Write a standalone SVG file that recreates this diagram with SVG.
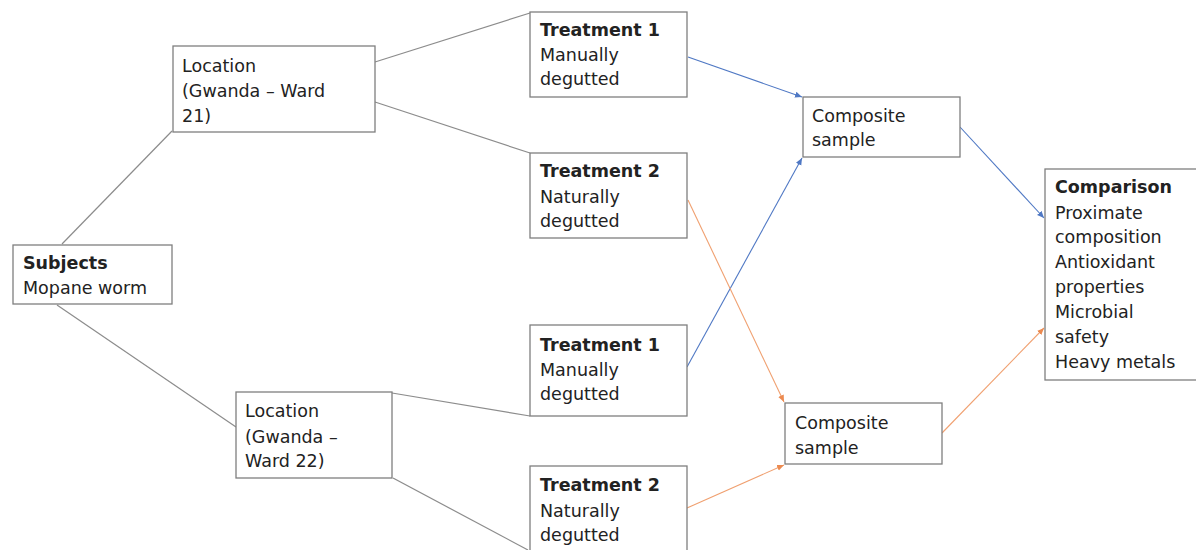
<svg xmlns="http://www.w3.org/2000/svg" width="1196" height="550" viewBox="0 0 1196 550">
<defs>
<style>
.box{fill:#fff;stroke:#7f7f7f;stroke-width:1.3}
.t{font-family:"DejaVu Sans",Verdana,sans-serif;font-size:17.5px;fill:#222}
.b{font-weight:bold}
.g{stroke:#8c8c8c;stroke-width:1.2;fill:none}
.bl{stroke:#4f78c4;stroke-width:1.1;fill:none}
.or{stroke:#f0a070;stroke-width:1.1;fill:none}
</style>
<marker id="ab" markerUnits="userSpaceOnUse" markerWidth="8" markerHeight="8" refX="7" refY="4" orient="auto"><path d="M0,1 L7,4 L0,7 Z" fill="#4f78c4"/></marker>
<marker id="ao" markerUnits="userSpaceOnUse" markerWidth="8" markerHeight="8" refX="7" refY="4" orient="auto"><path d="M0,1 L7,4 L0,7 Z" fill="#ec8a50"/></marker>
</defs>
<rect width="1196" height="550" fill="#fff"/>
<g id="connectors">
<line class="g" x1="62" y1="244" x2="172" y2="131"/>
<line class="g" x1="57" y1="305" x2="236" y2="427"/>
<line class="g" x1="375" y1="62" x2="530" y2="13"/>
<line class="g" x1="375" y1="102" x2="530" y2="153"/>
<line class="g" x1="392" y1="393" x2="530" y2="416"/>
<line class="g" x1="393" y1="478" x2="528" y2="550"/>
<line class="bl" x1="688" y1="57" x2="802" y2="97" marker-end="url(#ab)"/>
<line class="bl" x1="687" y1="367" x2="802" y2="158" marker-end="url(#ab)"/>
<line class="bl" x1="960" y1="127" x2="1044" y2="218" marker-end="url(#ab)"/>
<line class="or" x1="688" y1="200" x2="784" y2="402" marker-end="url(#ao)"/>
<line class="or" x1="687" y1="508" x2="784" y2="465" marker-end="url(#ao)"/>
<line class="or" x1="942" y1="433" x2="1044" y2="328" marker-end="url(#ao)"/>
</g>
<g id="subjects">
<rect class="box" x="13" y="245" width="159" height="59"/>
<text class="t b" x="23" y="269">Subjects</text>
<text class="t" x="23" y="294">Mopane worm</text>
</g>
<g id="location1">
<rect class="box" x="173" y="46" width="202" height="86"/>
<text class="t" x="182" y="72">Location</text>
<text class="t" x="182" y="97">(Gwanda – Ward</text>
<text class="t" x="182" y="122">21)</text>
</g>
<g id="location2">
<rect class="box" x="236" y="392" width="156" height="86"/>
<text class="t" x="245" y="417">Location</text>
<text class="t" x="245" y="443">(Gwanda –</text>
<text class="t" x="245" y="467">Ward 22)</text>
</g>
<g id="treatment1a">
<rect class="box" x="530" y="12" width="157" height="85"/>
<text class="t b" x="540" y="36">Treatment 1</text>
<text class="t" x="540" y="61">Manually</text>
<text class="t" x="540" y="85">degutted</text>
</g>
<g id="treatment2a">
<rect class="box" x="530" y="153" width="157" height="85"/>
<text class="t b" x="540" y="177">Treatment 2</text>
<text class="t" x="540" y="203">Naturally</text>
<text class="t" x="540" y="227">degutted</text>
</g>
<g id="treatment1b">
<rect class="box" x="530" y="325" width="157" height="91"/>
<text class="t b" x="540" y="351">Treatment 1</text>
<text class="t" x="540" y="376">Manually</text>
<text class="t" x="540" y="400">degutted</text>
</g>
<g id="treatment2b">
<rect class="box" x="530" y="466" width="157" height="90"/>
<text class="t b" x="540" y="491">Treatment 2</text>
<text class="t" x="540" y="517">Naturally</text>
<text class="t" x="540" y="541">degutted</text>
</g>
<g id="composite1">
<rect class="box" x="803" y="97" width="157" height="60"/>
<text class="t" x="812" y="122">Composite</text>
<text class="t" x="812" y="146">sample</text>
</g>
<g id="composite2">
<rect class="box" x="785" y="403" width="157" height="61"/>
<text class="t" x="795" y="429">Composite</text>
<text class="t" x="795" y="454">sample</text>
</g>
<g id="comparison">
<rect class="box" x="1045" y="169" width="160" height="211"/>
<text class="t b" x="1055" y="193">Comparison</text>
<text class="t" x="1055" y="219">Proximate</text>
<text class="t" x="1055" y="243">composition</text>
<text class="t" x="1055" y="268">Antioxidant</text>
<text class="t" x="1055" y="293">properties</text>
<text class="t" x="1055" y="318">Microbial</text>
<text class="t" x="1055" y="343">safety</text>
<text class="t" x="1055" y="368">Heavy metals</text>
</g>
</svg>
